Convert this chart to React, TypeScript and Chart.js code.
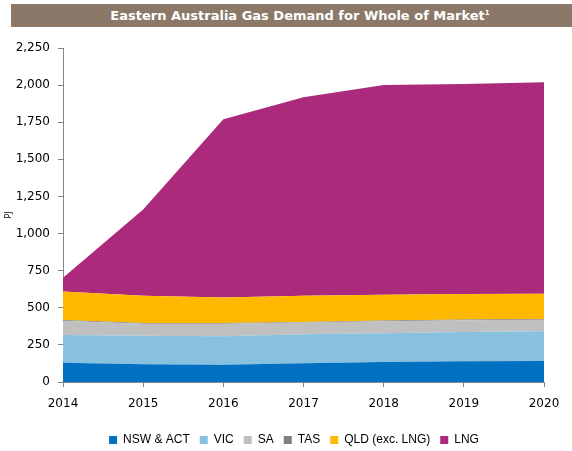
import React, { useEffect, useRef } from "react";
import { Chart, registerables } from "chart.js";

Chart.register(...registerables);

const years = ["2014", "2015", "2016", "2017", "2018", "2019", "2020"];
const nswAct = [130, 120, 117, 126, 135, 140, 142];
const vic = [187, 191, 192, 196, 194, 196, 200];
const sa = [95, 81, 83, 78, 80, 80, 78];
const tas = [5, 5, 5, 5, 5, 5, 5];
const qld = [193, 184, 173, 176, 174, 172, 170];
const lng = [93, 581, 1200, 1338, 1412, 1414, 1425];

const seriesNames = ["NSW & ACT", "VIC", "SA", "TAS", "QLD (exc. LNG)", "LNG"];
const seriesColors = ["#0070C0", "#88C0E0", "#C0C0C0", "#808080", "#FFB800", "#AB2A7C"];
const seriesData = [nswAct, vic, sa, tas, qld, lng];

const titleText = "Eastern Australia Gas Demand for Whole of Market";

export default function App() {
  const ref = useRef<HTMLCanvasElement>(null);

  useEffect(() => {
    const canvas = ref.current;
    if (!canvas) return;
    const tickFont = { family: "DejaVu Sans", size: 12 };
    const axisColor = "#868686";
    const shiftLegend = {
      id: "shiftLegend",
      afterLayout(c: any) {
        if (c.legend) {
          c.legend.left += 22;
          c.legend.right += 22;
        }
      },
    };
    const chart = new Chart(canvas, {
      type: "line",
      data: {
        labels: years,
        datasets: seriesData.map((d, i) => ({
          label: seriesNames[i],
          data: d,
          backgroundColor: seriesColors[i],
          borderColor: seriesColors[i],
          borderWidth: 0,
          pointRadius: 0,
          fill: i === 0 ? "origin" : "-1",
          tension: 0,
        })),
      },
      plugins: [shiftLegend],
      options: {
        responsive: false,
        animation: false,
        devicePixelRatio: 1,
        layout: { padding: { left: 0, top: 48, right: 28, bottom: 0 } },
        plugins: {
          tooltip: { enabled: false },
          legend: {
            position: "bottom",
            labels: {
              boxWidth: 8,
              boxHeight: 8,
              padding: 10,
              color: "#000",
              font: { family: "Liberation Sans", size: 12 },
            },
          },
          title: { display: false },
        },
        scales: {
          x: {
            type: "category",
            offset: false,
            grid: {
              display: true,
              drawOnChartArea: false,
              drawTicks: true,
              tickLength: 5,
              color: axisColor,
            },
            border: { display: true, color: axisColor },
            ticks: { font: tickFont, color: "#000", padding: 10, maxRotation: 0, autoSkip: false },
            afterFit: (s: any) => {
              s.height = 42;
            },
          },
          y: {
            stacked: true,
            min: 0,
            max: 2250,
            grid: {
              display: true,
              drawOnChartArea: false,
              drawTicks: true,
              tickLength: 5,
              color: axisColor,
            },
            border: { display: true, color: axisColor },
            ticks: {
              stepSize: 250,
              font: tickFont,
              color: "#000",
              padding: 8,
              callback: (v: any) => Number(v).toLocaleString("en-US"),
            },
            title: {
              display: true,
              text: "PJ",
              font: { family: "DejaVu Sans", size: 8 },
              color: "#000",
              padding: 4,
            },
            afterFit: (s: any) => {
              s.width = 63;
            },
          },
        },
      },
    });
    return () => chart.destroy();
  }, []);

  return (
    <div
      style={{
        position: "fixed",
        left: 0,
        top: 0,
        width: 572,
        height: 451,
        overflow: "hidden",
        background: "#fff",
      }}
    >
      <canvas ref={ref} width={572} height={456} style={{ position: "absolute", left: 0, top: 0 }} />
      <div
        style={{
          position: "absolute",
          left: 11,
          top: 4,
          width: 561,
          height: 23,
          background: "#8B7868",
          color: "#fff",
          fontFamily: "DejaVu Sans",
          fontWeight: "bold",
          fontSize: 13,
          lineHeight: "23px",
          textAlign: "center",
          paddingLeft: 17,
          boxSizing: "border-box",
        }}
      >
        {titleText}
        <sup style={{ fontSize: 7, lineHeight: 0 }}>1</sup>
      </div>
    </div>
  );
}
